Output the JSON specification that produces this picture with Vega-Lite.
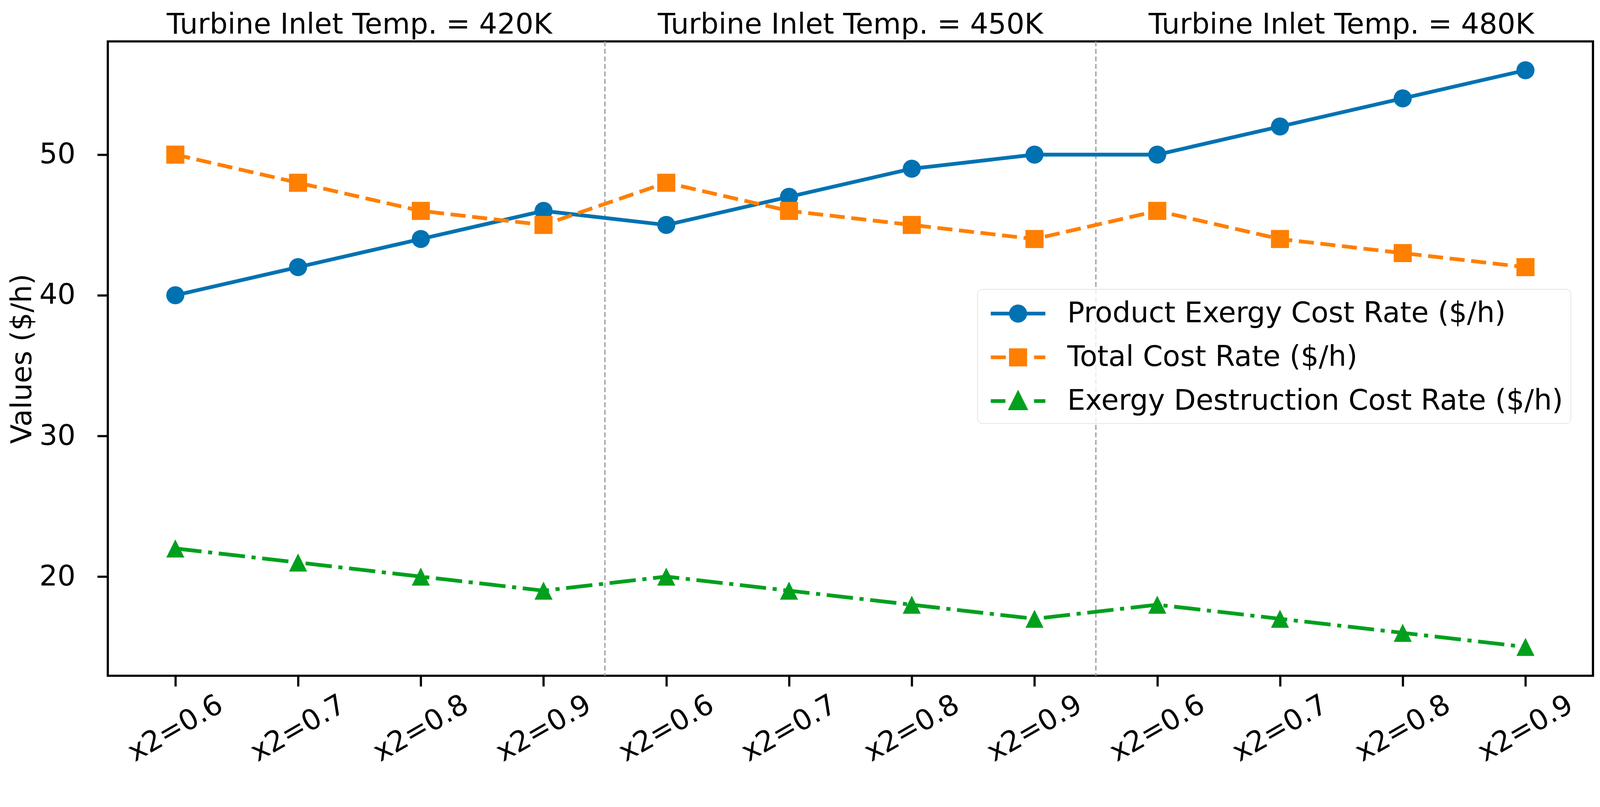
{
  "$schema": "https://vega.github.io/schema/vega-lite/v6.json",
  "autosize": {"type": "none"},
  "width": 3802,
  "height": 1624,
  "padding": {"left": 276, "top": 106, "right": 173, "bottom": 336},
  "background": "white",
  "config": {
    "view": {"stroke": "black", "strokeWidth": 5.6},
    "font": "DejaVu Sans",
    "axis": {"labelFont": "DejaVu Sans", "titleFont": "DejaVu Sans", "labelColor": "black", "titleColor": "black", "tickColor": "black", "grid": false, "domain": false}
  },
  "datasets": {
    "series": [
      {"i": 0, "series": "Product Exergy Cost Rate ($/h)", "value": 40},
      {"i": 1, "series": "Product Exergy Cost Rate ($/h)", "value": 42},
      {"i": 2, "series": "Product Exergy Cost Rate ($/h)", "value": 44},
      {"i": 3, "series": "Product Exergy Cost Rate ($/h)", "value": 46},
      {"i": 4, "series": "Product Exergy Cost Rate ($/h)", "value": 45},
      {"i": 5, "series": "Product Exergy Cost Rate ($/h)", "value": 47},
      {"i": 6, "series": "Product Exergy Cost Rate ($/h)", "value": 49},
      {"i": 7, "series": "Product Exergy Cost Rate ($/h)", "value": 50},
      {"i": 8, "series": "Product Exergy Cost Rate ($/h)", "value": 50},
      {"i": 9, "series": "Product Exergy Cost Rate ($/h)", "value": 52},
      {"i": 10, "series": "Product Exergy Cost Rate ($/h)", "value": 54},
      {"i": 11, "series": "Product Exergy Cost Rate ($/h)", "value": 56},
      {"i": 0, "series": "Total Cost Rate ($/h)", "value": 50},
      {"i": 1, "series": "Total Cost Rate ($/h)", "value": 48},
      {"i": 2, "series": "Total Cost Rate ($/h)", "value": 46},
      {"i": 3, "series": "Total Cost Rate ($/h)", "value": 45},
      {"i": 4, "series": "Total Cost Rate ($/h)", "value": 48},
      {"i": 5, "series": "Total Cost Rate ($/h)", "value": 46},
      {"i": 6, "series": "Total Cost Rate ($/h)", "value": 45},
      {"i": 7, "series": "Total Cost Rate ($/h)", "value": 44},
      {"i": 8, "series": "Total Cost Rate ($/h)", "value": 46},
      {"i": 9, "series": "Total Cost Rate ($/h)", "value": 44},
      {"i": 10, "series": "Total Cost Rate ($/h)", "value": 43},
      {"i": 11, "series": "Total Cost Rate ($/h)", "value": 42},
      {"i": 0, "series": "Exergy Destruction Cost Rate ($/h)", "value": 22},
      {"i": 1, "series": "Exergy Destruction Cost Rate ($/h)", "value": 21},
      {"i": 2, "series": "Exergy Destruction Cost Rate ($/h)", "value": 20},
      {"i": 3, "series": "Exergy Destruction Cost Rate ($/h)", "value": 19},
      {"i": 4, "series": "Exergy Destruction Cost Rate ($/h)", "value": 20},
      {"i": 5, "series": "Exergy Destruction Cost Rate ($/h)", "value": 19},
      {"i": 6, "series": "Exergy Destruction Cost Rate ($/h)", "value": 18},
      {"i": 7, "series": "Exergy Destruction Cost Rate ($/h)", "value": 17},
      {"i": 8, "series": "Exergy Destruction Cost Rate ($/h)", "value": 18},
      {"i": 9, "series": "Exergy Destruction Cost Rate ($/h)", "value": 17},
      {"i": 10, "series": "Exergy Destruction Cost Rate ($/h)", "value": 16},
      {"i": 11, "series": "Exergy Destruction Cost Rate ($/h)", "value": 15}
    ],
    "separators": [{"sep": 3.5}, {"sep": 7.5}],
    "groups": [
      {"center": 1.5, "label": "Turbine Inlet Temp. = 420K"},
      {"center": 5.5, "label": "Turbine Inlet Temp. = 450K"},
      {"center": 9.5, "label": "Turbine Inlet Temp. = 480K"}
    ]
  },
  "layer": [
    {
      "data": {"name": "separators"},
      "mark": {"type": "rule", "stroke": "#a0a0a0", "strokeWidth": 3.4, "strokeDash": [12.5, 6.75]},
      "encoding": {
        "x": {"field": "sep", "type": "quantitative", "scale": {"domain": [-0.55, 11.55], "nice": false, "zero": false}}
      }
    },
    {
      "data": {"name": "series"},
      "encoding": {
        "x": {"field": "i", "type": "quantitative", "scale": {"domain": [-0.55, 11.55], "nice": false, "zero": false},
          "axis": {"title": null, "values": [0,1,2,3,4,5,6,7,8,9,10,11], "labelExpr": "['x2=0.6','x2=0.7','x2=0.8','x2=0.9'][datum.value % 4]", "labelAngle": -30, "labelAlign": "center", "labelBaseline": "middle", "labelPadding": 108, "labelFontSize": 72.9, "labelLimit": 0, "tickSize": 27, "tickWidth": 5.6, "labelOverlap": false, "labelFlush": false}},
        "y": {"field": "value", "type": "quantitative", "scale": {"domain": [12.95, 58.05], "nice": false, "zero": false},
          "axis": {"title": "Values ($/h)", "values": [20, 30, 40, 50], "labelFontSize": 72.9, "titleFontSize": 72.9, "titleFontWeight": "normal", "titlePadding": 6, "labelPadding": 56, "tickSize": 27, "tickWidth": 5.6}},
        "color": {"field": "series", "type": "nominal",
          "scale": {"domain": ["Product Exergy Cost Rate ($/h)", "Total Cost Rate ($/h)", "Exergy Destruction Cost Rate ($/h)"], "range": ["#0072B2", "#FF7F00", "#00A01E"]},
          "legend": {
            "title": null, "orient": "none", "legendX": 2226, "legendY": 634,
            "padding": 19.3, "rowPadding": 30, "labelOffset": 124, "labelFontSize": 72.9, "labelFont": "DejaVu Sans", "labelColor": "black", "labelLimit": 0,
            "symbolSize": 5951, "symbolType": "circle", "symbolStrokeWidth": 9.6,
            "fillColor": "rgba(255,255,255,0.8)", "strokeColor": "#cccccc", "cornerRadius": 13.5,
            "encode": {
              "symbols": {"update": {
                "shape": {"signal": "datum.value === 'Product Exergy Cost Rate ($/h)' ? 'M-0.7375,0H2.8875M0.6,0A0.475,0.475 0 1,0 1.55,0A0.475,0.475 0 1,0 0.6,0Z' : datum.value === 'Total Cost Rate ($/h)' ? 'M-0.7375,0H0.2625M2.1375,0H2.8875M0.6,-0.475H1.55V0.475H0.6Z' : 'M-0.7375,0H0.235M2.135,0H2.8875M1.075,-0.475L1.55,0.475H0.6Z'"},
                "fill": {"signal": "datum.value === 'Product Exergy Cost Rate ($/h)' ? '#0072B2' : datum.value === 'Total Cost Rate ($/h)' ? '#FF7F00' : '#00A01E'"},
                "stroke": {"signal": "datum.value === 'Product Exergy Cost Rate ($/h)' ? '#0072B2' : datum.value === 'Total Cost Rate ($/h)' ? '#FF7F00' : '#00A01E'"},
                "strokeWidth": {"value": 9.6},
                "strokeDash": {"value": [1, 0]},
                "opacity": {"value": 1},
                "fillOpacity": {"value": 1},
                "strokeOpacity": {"value": 1}
              }}
            }
          }}
      },
      "layer": [
        {"transform": [{"filter": {"field": "series", "equal": "Product Exergy Cost Rate ($/h)"}}],
         "mark": {"type": "line", "strokeWidth": 9.6}},
        {"transform": [{"filter": {"field": "series", "equal": "Product Exergy Cost Rate ($/h)"}}],
         "mark": {"type": "point", "shape": "circle", "filled": true, "opacity": 1, "size": 2143}},
        {"transform": [{"filter": {"field": "series", "equal": "Total Cost Rate ($/h)"}}],
         "mark": {"type": "line", "strokeWidth": 9.6, "strokeDash": [38.6, 16.9]}},
        {"transform": [{"filter": {"field": "series", "equal": "Total Cost Rate ($/h)"}}],
         "mark": {"type": "point", "shape": "square", "filled": true, "opacity": 1, "size": 2143}},
        {"transform": [{"filter": {"field": "series", "equal": "Exergy Destruction Cost Rate ($/h)"}}],
         "mark": {"type": "line", "strokeWidth": 9.6, "strokeDash": [67.5, 16.9, 10.6, 16.9]}},
        {"transform": [{"filter": {"field": "series", "equal": "Exergy Destruction Cost Rate ($/h)"}}],
         "mark": {"type": "point", "shape": "M0,-1L1,1L-1,1Z", "filled": true, "opacity": 1, "size": 2143}}
      ]
    },
    {
      "data": {"name": "groups"},
      "mark": {"type": "text", "fontSize": 72.9, "font": "DejaVu Sans", "color": "black", "baseline": "alphabetic", "align": "center", "dy": -20.3, "clip": false},
      "encoding": {
        "x": {"field": "center", "type": "quantitative"},
        "y": {"datum": 58.05},
        "text": {"field": "label"}
      }
    }
  ]
}
